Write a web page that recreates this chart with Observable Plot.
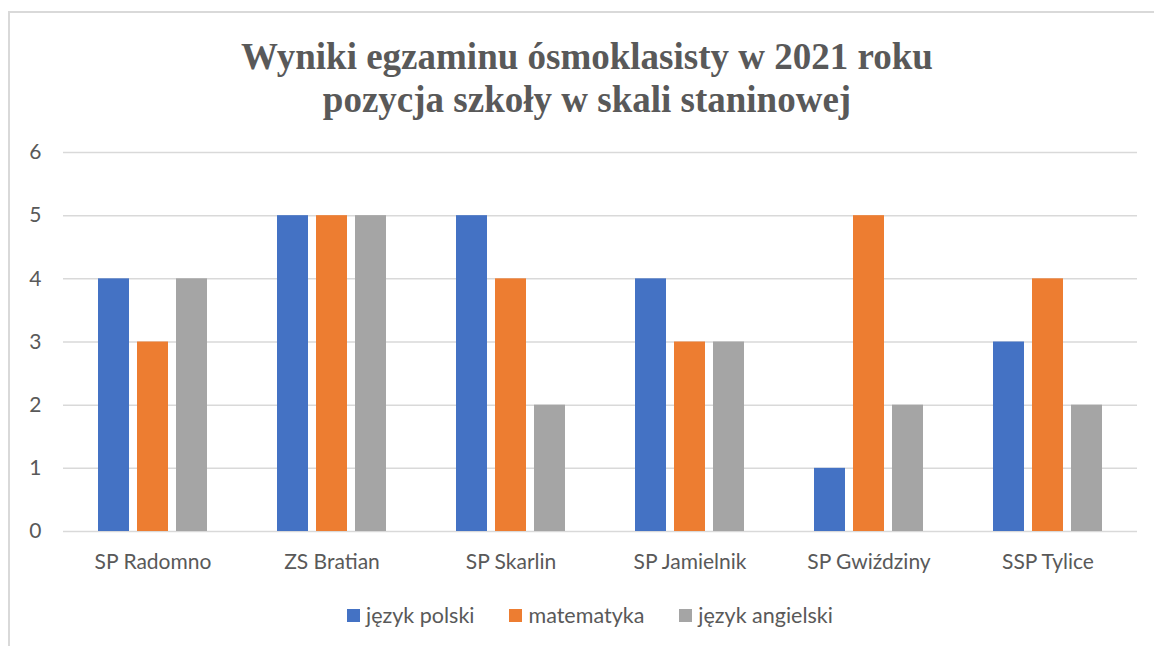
<!DOCTYPE html>
<html>
<head>
<meta charset="utf-8">
<script src="https://cdn.jsdelivr.net/npm/d3@7"></script>
<script src="https://cdn.jsdelivr.net/npm/@observablehq/plot@0.6"></script>
<style>
  html, body { margin: 0; padding: 0; background: #fff; }
  #wrap { position: relative; width: 1154px; height: 646px; overflow: hidden; }
  #frame { position: absolute; left: 8px; top: 11px; width: 1170px; height: 660px; border: 2px solid #d9d9d9; box-sizing: border-box; }
  #title { position: absolute; left: 0; top: 35px; width: 1154px; padding-left: 20px; box-sizing: border-box; text-align: center;
           font-family: "Liberation Serif", "Times New Roman", serif; font-weight: bold; font-size: 37px; line-height: 43px; color: #595959; }
  #chart { position: absolute; left: 0; top: 122px; }
  #legend { position: absolute; left: 0; top: 602px; width: 1154px; padding-left: 26px; box-sizing: border-box; display: flex; justify-content: center; gap: 35px;
            font-family: Lato, "Open Sans", sans-serif; font-size: 21.5px; color: #595959; line-height: 26px; }
  .item { display: flex; align-items: center; gap: 6px; }
  .sw { width: 13px; height: 13px; display: inline-block; }
</style>
</head>
<body>
<div id="wrap">
  <div id="frame"></div>
  <div id="title">Wyniki egzaminu ósmoklasisty w 2021 roku<br>pozycja szkoły w skali staninowej</div>
  <div id="chart"></div>
  <div id="legend"></div>
</div>
<script>
const schools = ["SP Radomno", "ZS Bratian", "SP Skarlin", "SP Jamielnik", "SP Gwiździny", "SSP Tylice"];
const subjects = ["język polski", "matematyka", "język angielski"];
const polski = [4, 5, 5, 4, 1, 3];
const matematyka = [3, 5, 4, 3, 5, 4];
const angielski = [4, 5, 2, 3, 2, 2];
const yTicks = [0, 1, 2, 3, 4, 5, 6];
const colors = ["#4472C4", "#ED7D31", "#A5A5A5"];

const series = [polski, matematyka, angielski];
const data = schools.flatMap((s, i) => subjects.map((sub, j) => ({school: s, subject: sub, value: series[j][i]})));

const font = "Lato, 'Open Sans', sans-serif";
const chart = Plot.plot({
  width: 1154,
  height: 454,
  marginLeft: 61,
  marginRight: 16,
  marginTop: 30,
  marginBottom: 45,
  style: {fontFamily: font, fontSize: "21px", color: "#595959", background: "transparent", overflow: "visible"},
  fx: {domain: schools, padding: 0, label: null, axis: null},
  x: {domain: subjects, paddingInner: 0.2, paddingOuter: 0.84, axis: null},
  y: {domain: [0, 6], ticks: yTicks, label: null, axis: null},
  color: {domain: subjects, range: colors},
  marks: [
    Plot.ruleY(yTicks, {stroke: "#d9d9d9", strokeWidth: 1.5}),
    Plot.barY(data, {fx: "school", x: "subject", y: "value", fill: "subject"}),
    Plot.axisY({ticks: yTicks, tickFormat: d => String(d), tickSize: 0, tickPadding: 22, label: null, fill: "#595959"}),
    Plot.axisFx({anchor: "bottom", tickSize: 0, tickPadding: 23, label: null, fill: "#595959"})
  ]
});
document.getElementById("chart").appendChild(chart);

const legend = document.getElementById("legend");
subjects.forEach((s, i) => {
  const item = document.createElement("div");
  item.className = "item";
  const sw = document.createElement("span");
  sw.className = "sw";
  sw.style.background = colors[i];
  const t = document.createElement("span");
  t.textContent = s;
  item.appendChild(sw);
  item.appendChild(t);
  legend.appendChild(item);
});
</script>
</body>
</html>
